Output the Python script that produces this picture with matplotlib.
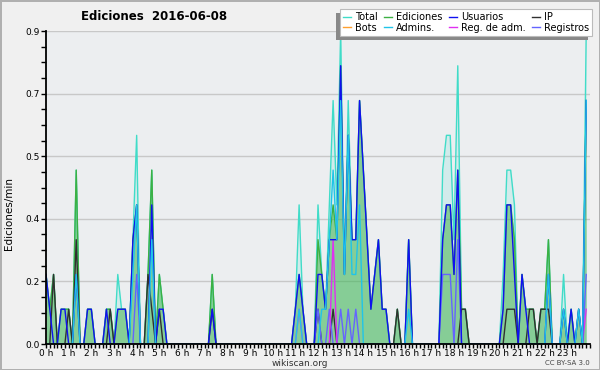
import numpy as np
import matplotlib
matplotlib.use("Agg")
import matplotlib.pyplot as plt
from matplotlib.patches import Rectangle

# edits per 10-minute slot, 144 slots (24 per line = 4 hours)
total = [2,1,2,0,1,1, 1,0,5,0,0,1, 1,0,0,0,1,1, 0,2,1,1,0,3,
         6,0,0,2,5,0, 2,1,0,0,0,0, 0,0,0,0,0,0, 0,0,2,0,0,0,
         0,0,0,0,0,0, 0,0,0,0,0,0, 0,0,0,0,0,0, 1,4,1,0,0,0,
         4,2,1,4,7,4, 9,2,7,3,3,7, 5,3,1,2,3,1, 1,0,0,1,0,0,
         3,0,0,0,0,0, 0,0,0,5,6,6, 3,8,1,1,0,0, 0,0,0,0,0,0,
         0,2,5,5,4,0, 2,1,1,1,0,1, 1,3,0,0,0,2, 0,1,0,1,0,9]
ediciones = [2,1,2,0,1,1, 1,0,5,0,0,1, 1,0,0,0,1,1, 0,1,1,1,0,3,
             4,0,0,2,5,0, 2,1,0,0,0,0, 0,0,0,0,0,0, 0,0,2,0,0,0,
             0,0,0,0,0,0, 0,0,0,0,0,0, 0,0,0,0,0,0, 1,2,1,0,0,0,
             3,2,1,3,4,3, 8,2,6,3,3,7, 5,3,1,2,3,1, 1,0,0,1,0,0,
             3,0,0,0,0,0, 0,0,0,3,4,4, 2,5,1,1,0,0, 0,0,0,0,0,0,
             0,1,4,4,3,0, 2,1,1,1,0,1, 1,3,0,0,0,1, 0,1,0,1,0,7]
usuarios = [2,1,0,0,1,1, 0,0,2,0,0,1, 1,0,0,0,1,0, 0,1,1,1,0,3,
            4,0,0,0,4,0, 1,1,0,0,0,0, 0,0,0,0,0,0, 0,0,1,0,0,0,
            0,0,0,0,0,0, 0,0,0,0,0,0, 0,0,0,0,0,0, 1,2,1,0,0,0,
            2,2,1,3,3,3, 8,2,6,3,3,7, 5,3,1,2,3,1, 1,0,0,0,0,0,
            3,0,0,0,0,0, 0,0,0,3,4,4, 2,5,0,0,0,0, 0,0,0,0,0,0,
            0,1,4,4,2,0, 2,1,0,0,0,0, 0,2,0,0,0,1, 0,1,0,1,0,7]
ip = [0,0,2,0,0,0, 1,0,3,0,0,0, 0,0,0,0,0,1, 0,0,0,0,0,0,
      0,0,0,2,1,0, 1,0,0,0,0,0, 0,0,0,0,0,0, 0,0,1,0,0,0,
      0,0,0,0,0,0, 0,0,0,0,0,0, 0,0,0,0,0,0, 0,0,0,0,0,0,
      1,0,0,0,1,0, 0,0,0,0,0,0, 0,0,0,0,0,0, 0,0,0,1,0,0,
      0,0,0,0,0,0, 0,0,0,0,0,0, 0,0,1,1,0,0, 0,0,0,0,0,0,
      0,0,1,1,1,0, 0,0,1,1,0,1, 1,1,0,0,0,0, 0,0,0,0,0,0]
bots = [0,0,0,0,0,0, 0,0,0,0,0,0, 0,0,0,0,0,0, 0,0,0,0,0,0,
        0,0,0,0,0,0, 0,0,0,0,0,0, 0,0,0,0,0,0, 0,0,0,0,0,0,
        0,0,0,0,0,0, 0,0,0,0,0,0, 0,0,0,0,0,0, 0,0,0,0,0,0,
        0,0,0,0,0,0, 0,0,0,0,0,0, 0,0,0,0,0,0, 0,0,0,0,0,0,
        0,0,0,0,0,0, 0,0,0,0,0,0, 0,0,0,0,0,0, 0,0,0,0,0,0,
        0,0,0,0,0,0, 0,0,0,0,0,0, 0,0,0,0,0,0, 0,0,0,0,0,0]
admins = [0,0,0,0,0,0, 0,0,2,0,0,0, 0,0,0,0,0,0, 0,0,0,0,0,2,
          4,0,0,0,3,0, 0,0,0,0,0,0, 0,0,0,0,0,0, 0,0,0,0,0,0,
          0,0,0,0,0,0, 0,0,0,0,0,0, 0,0,0,0,0,0, 0,1,0,0,0,0,
          0,1,1,3,5,3, 7,2,6,2,2,4, 0,0,0,0,0,0, 0,0,0,0,0,0,
          1,0,0,0,0,0, 0,0,0,0,0,0, 0,0,0,0,0,0, 0,0,0,0,0,0,
          0,0,0,0,0,0, 0,0,0,0,0,0, 0,2,0,0,0,1, 0,0,0,1,0,7]
reg_adm = [0,0,0,0,0,0, 0,0,0,0,0,0, 0,0,0,0,0,0, 0,0,0,0,0,0,
           0,0,0,0,0,0, 0,0,0,0,0,0, 0,0,0,0,0,0, 0,0,0,0,0,0,
           0,0,0,0,0,0, 0,0,0,0,0,0, 0,0,0,0,0,0, 0,1,0,0,0,0,
           0,0,0,0,3,0, 0,0,0,0,0,0, 0,0,0,0,0,0, 0,0,0,0,0,0,
           0,0,0,0,0,0, 0,0,0,0,0,0, 0,0,0,0,0,0, 0,0,0,0,0,0,
           0,0,0,0,0,0, 0,0,0,0,0,0, 0,0,0,0,0,0, 0,0,0,0,0,1]
registros = [0,0,0,0,0,0, 0,0,0,0,0,0, 0,0,0,0,0,0, 0,0,0,0,0,0,
             2,0,0,0,0,0, 0,0,0,0,0,0, 0,0,0,0,0,0, 0,0,0,0,0,0,
             0,0,0,0,0,0, 0,0,0,0,0,0, 0,0,0,0,0,0, 0,0,0,0,0,0,
             1,0,0,1,0,0, 1,0,1,0,1,0, 0,0,0,0,0,0, 0,0,0,0,0,0,
             0,0,0,0,0,0, 0,0,0,2,2,2, 0,3,0,0,0,0, 0,0,0,0,0,0,
             0,0,0,0,0,0, 0,0,0,0,0,0, 0,0,0,0,0,0, 0,0,0,0,0,2]
hour_labels = [f"{h} h" for h in range(24)]

x = np.arange(len(total)) / 6  # hours
per_min = lambda s: np.array(s) / 10

fig = plt.figure(figsize=(6, 3.7), dpi=100)
fig.patch.set_facecolor("#f0f0f0")
fig.patch.set_edgecolor("#b0b0b0")
fig.patch.set_linewidth(2)
ax = fig.add_axes([46/600, 26/370, 544/600, 313/370])
ax.set_facecolor("#eceef0")

ax.fill_between(x, per_min(total), color="#40e0d0", alpha=0.15, lw=0)
ax.fill_between(x, per_min(ediciones), color="#3cb043", alpha=0.5, lw=0)

series = [
    ("Total", total, "#40dcc8", 1.0),
    ("Bots", bots, "#ffa030", 1.0),
    ("Ediciones", ediciones, "#3cb043", 1.0),
    ("Admins.", admins, "#20c4e8", 1.0),
    ("Usuarios", usuarios, "#1010f0", 1.0),
    ("Reg. de adm.", reg_adm, "#e030f0", 1.0),
    ("IP", ip, "#303030", 1.0),
    ("Registros", registros, "#6464ff", 1.0),
]
draw_order = ["Total", "Ediciones", "Bots", "IP", "Registros", "Reg. de adm.", "Usuarios", "Admins."]
handles = {}
for name in draw_order:
    for lab, vals, col, lw in series:
        if lab == name:
            ln, = ax.plot(x, per_min(vals), color=col, lw=lw, label=lab)
            handles[lab] = ln

ax.set_xlim(0, 24)
ax.set_ylim(0, 0.9)
ax.set_xticks(np.arange(0, 25))
ax.set_xticklabels(hour_labels + [""], fontsize=6.5)
ax.set_xticks(np.arange(0, 24.01, 1/6), minor=True)
yt = np.arange(0, 0.91, 0.18)
ax.set_yticks(yt)
ax.set_yticklabels([f"{v:.1f}" for v in yt], fontsize=6.5)
ax.set_yticks(np.arange(0, 0.91, 0.045), minor=True)
ax.tick_params(axis="both", which="both", direction="out", length=3.5, width=1, pad=1)
ax.tick_params(axis="x", which="both", length=3, pad=0.5)
ax.grid(axis="y", color="#c8c8c8", lw=1)
ax.set_axisbelow(True)
for s in ["top", "right"]:
    ax.spines[s].set_visible(False)
for s in ["left", "bottom"]:
    ax.spines[s].set_linewidth(1.3)

fig.text(154/600, 1 - 17/370, "Ediciones  2016-06-08", ha="center", va="center",
         fontsize=8.5, fontweight="bold")
fig.text(9/600, 1 - 213/370, "Ediciones/min", rotation=90, ha="center", va="center", fontsize=7.5)
fig.text(300/600, 1 - 363/370, "wikiscan.org", ha="center", va="center", fontsize=6.5, color="#333333")
fig.text(590/600, 1 - 363/370, "CC BY-SA 3.0", ha="right", va="center", fontsize=5, color="#444444")

order = [lab for lab, _, _, _ in series]
leg = fig.legend([handles[k] for k in order], order, loc="upper right",
                 bbox_to_anchor=(592/600, 1 - 9/370), ncol=4, fontsize=7,
                 handlelength=0.8, handletextpad=0.4, columnspacing=0.7,
                 labelspacing=0.1, borderpad=0.3, borderaxespad=0, fancybox=False,
                 edgecolor="#bbbbbb", framealpha=1)
leg.get_frame().set_linewidth(0.8)

fig.canvas.draw()
bb = leg.get_window_extent().transformed(fig.transFigure.inverted())
fig.add_artist(Rectangle((bb.x0 - 4/600, bb.y0 - 4/370), bb.width, bb.height,
                         transform=fig.transFigure, fc="#888888", ec="none",
                         zorder=leg.get_zorder() - 0.5))

fig.savefig("out.png", dpi=100)
